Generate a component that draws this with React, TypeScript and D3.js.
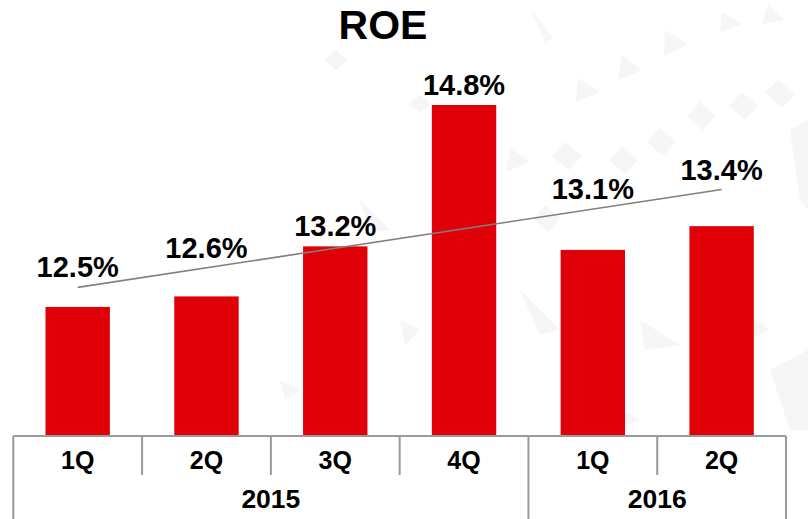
import React from "react";
import * as d3 from "d3";

const quarters = ["1Q", "2Q", "3Q", "4Q", "1Q", "2Q"];
const roeValues = [12.5, 12.62, 13.19, 14.8, 13.15, 13.42];
const roeLabels = ["12.5%", "12.6%", "13.2%", "14.8%", "13.1%", "13.4%"];
const years = ["2015", "2016"];
const quartersPerYear = [4, 2];

// faint decorative background shapes (not data)
const bgShapes: string[] = [
  "530,8 553,38 545,42",
  "665,30 688,44 664,56",
  "722,12 742,24 720,32",
  "768,4 784,20 762,24",
  "578,78 600,92 576,102",
  "622,55 642,70 618,80",
  "778,80 795,95 782,108 765,93",
  "742,92 758,106 745,120 729,106",
  "700,102 716,116 703,130 687,116",
  "660,128 676,142 663,156 647,142",
  "622,146 638,160 625,174 609,160",
  "565,142 582,156 569,170 552,156",
  "545,205 560,218 548,232 533,219",
  "790,130 808,120 808,210 800,200",
  "510,148 530,162 506,172",
  "440,160 452,175 430,170",
  "420,95 432,104 420,112 408,104",
  "335,50 348,60 336,70 324,60",
  "520,290 560,330 540,335",
  "640,320 680,345 645,350",
  "730,300 770,330 725,350",
  "770,370 808,350 808,430 790,430",
  "600,400 640,420 610,430",
  "400,320 420,330 405,345",
  "280,380 300,390 285,400",
  "360,200 390,230 370,232",
];

const W = 808;
const H = 519;
const left = 13.3;
const right = 786;
const axisY = 436;

export default function App() {
  const idx = quarters.map((_, i) => i);
  const x = d3
    .scaleBand<number>()
    .domain(idx)
    .range([left, right])
    .paddingInner(0.5)
    .paddingOuter(0.25);
  const step = x.step();
  const cellLeft = (i: number) => left + i * step;
  const y = d3.scaleLinear().domain([11.03, 14.8]).range([axisY, 105]);

  // least-squares trend line
  const n = roeValues.length;
  const mx = d3.mean(idx) as number;
  const my = d3.mean(roeValues) as number;
  const sxy = d3.sum(idx, (i) => (i - mx) * (roeValues[i] - my));
  const sxx = d3.sum(idx, (i) => (i - mx) * (i - mx));
  const slope = sxy / sxx;
  const intercept = my - slope * mx;
  const trend = (i: number) => intercept + slope * i;
  const cx = (i: number) => (x(i) as number) + x.bandwidth() / 2;
  const lineGen = d3
    .line<number>()
    .x((i) => cx(i))
    .y((i) => y(trend(i)));

  const yearStarts: number[] = [];
  let acc = 0;
  quartersPerYear.forEach((c) => {
    yearStarts.push(acc);
    acc += c;
  });

  const gridColor = "#9a9a9a";
  const font = "'Liberation Sans', Arial, sans-serif";

  return (
    <svg
      width={W}
      height={H}
      style={{ position: "absolute", left: 0, top: 0, background: "#fff" }}
      fontFamily={font}
    >
      <g fill="#e4e4e4" opacity={0.3}>
        {bgShapes.map((p, k) => (
          <polygon key={"s" + k} points={p} />
        ))}
      </g>

      <text x={383} y={39} textAnchor="middle" fontSize={41} fontWeight="bold" fill="#000">
        ROE
      </text>

      {idx.map((i) => (
        <rect
          key={"b" + i}
          x={x(i)}
          y={y(roeValues[i])}
          width={x.bandwidth()}
          height={axisY - y(roeValues[i])}
          fill="#df0008"
        />
      ))}

      <path d={lineGen([0, n - 1]) || ""} stroke="#7f7f7f" strokeWidth={1.6} fill="none" />

      {idx.map((i) => {
        const top = Math.min(y(roeValues[i]), y(trend(i)));
        return (
          <text
            key={"l" + i}
            x={cx(i)}
            y={top - 10}
            textAnchor="middle"
            fontSize={29}
            fontWeight="bold"
            fill="#000"
          >
            {roeLabels[i]}
          </text>
        );
      })}

      <line x1={left} x2={right} y1={axisY} y2={axisY} stroke={gridColor} strokeWidth={2} />
      {d3.range(n + 1).map((i) => {
        const isYearEdge = i === n || yearStarts.includes(i);
        return (
          <line
            key={"v" + i}
            x1={cellLeft(i)}
            x2={cellLeft(i)}
            y1={axisY}
            y2={isYearEdge ? H : 475}
            stroke={gridColor}
            strokeWidth={2}
          />
        );
      })}
      {idx.map((i) => (
        <text
          key={"q" + i}
          x={cellLeft(i) + step / 2}
          y={468.5}
          textAnchor="middle"
          fontSize={25}
          fontWeight="bold"
          fill="#000"
        >
          {quarters[i]}
        </text>
      ))}
      {years.map((yr, k) => {
        const s = yearStarts[k];
        const e = s + quartersPerYear[k];
        return (
          <text
            key={"y" + k}
            x={(cellLeft(s) + cellLeft(e)) / 2}
            y={508}
            textAnchor="middle"
            fontSize={26.5}
            fontWeight="bold"
            fill="#000"
          >
            {yr}
          </text>
        );
      })}
    </svg>
  );
}
